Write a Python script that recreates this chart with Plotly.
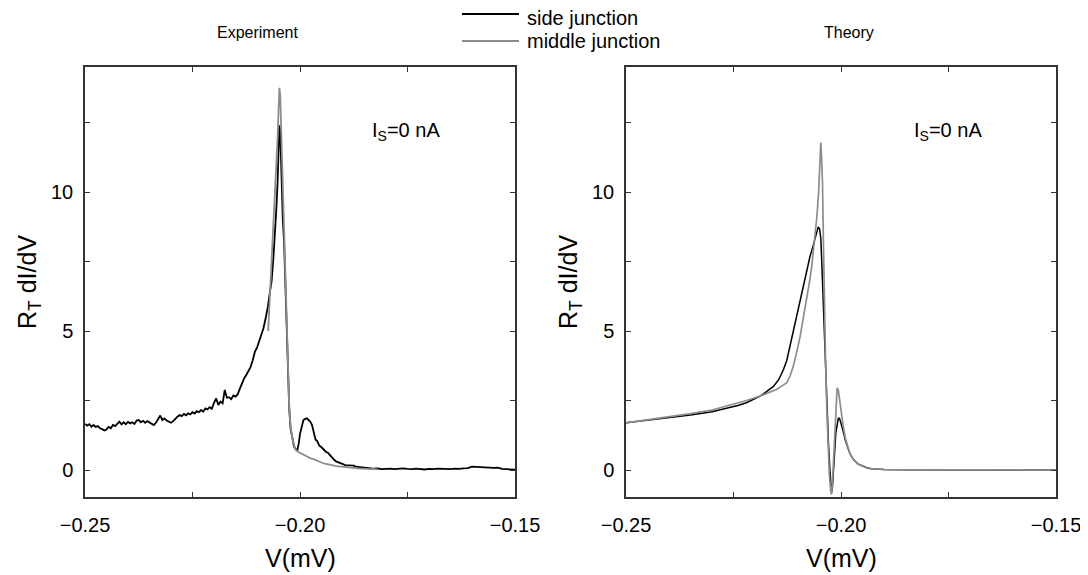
import plotly.graph_objects as go

# ---- experiment: side junction (black) ----
exp_side_v = [
    -0.2500, -0.2495, -0.2490, -0.2485, -0.2480, -0.2475, -0.2470, -0.2465, -0.2460, -0.2455,
    -0.2450, -0.2445, -0.2440, -0.2435, -0.2430, -0.2425, -0.2420, -0.2415, -0.2410, -0.2405,
    -0.2400, -0.2395, -0.2390, -0.2385, -0.2380, -0.2375, -0.2370, -0.2365, -0.2360, -0.2355,
    -0.2350, -0.2345, -0.2340, -0.2335, -0.2330, -0.2325, -0.2320, -0.2315, -0.2310, -0.2305,
    -0.2300, -0.2295, -0.2290, -0.2285, -0.2280, -0.2275, -0.2270, -0.2265, -0.2260, -0.2255,
    -0.2250, -0.2245, -0.2240, -0.2235, -0.2230, -0.2225, -0.2220, -0.2215, -0.2210, -0.2205,
    -0.2200, -0.2195, -0.2190, -0.2185, -0.2180, -0.2175, -0.2170, -0.2165, -0.2160, -0.2155,
    -0.2150, -0.2145, -0.2140, -0.2135, -0.2130, -0.2125, -0.2120, -0.2115, -0.2110, -0.2105,
    -0.2100, -0.2095, -0.2090, -0.2085, -0.2080, -0.2075, -0.2070, -0.2066, -0.2062, -0.2058,
    -0.2055, -0.2052, -0.2050, -0.2048, -0.2046, -0.2044, -0.2042, -0.2040, -0.2037, -0.2034,
    -0.2031, -0.2028, -0.2025, -0.2022, -0.2018, -0.2014, -0.2010, -0.2006, -0.2003, -0.2000,
    -0.1996, -0.1992, -0.1988, -0.1984, -0.1980, -0.1976, -0.1972, -0.1968, -0.1964, -0.1960,
    -0.1955, -0.1950, -0.1945, -0.1940, -0.1935, -0.1930, -0.1925, -0.1920, -0.1915, -0.1910,
    -0.1905, -0.1900, -0.1895, -0.1890, -0.1885, -0.1880, -0.1875, -0.1870, -0.1865, -0.1860,
    -0.1855, -0.1850, -0.1845, -0.1840, -0.1830, -0.1820, -0.1810, -0.1800, -0.1790, -0.1780,
    -0.1770, -0.1760, -0.1750, -0.1740, -0.1730, -0.1720, -0.1710, -0.1700, -0.1690, -0.1680,
    -0.1670, -0.1660, -0.1650, -0.1640, -0.1630, -0.1620, -0.1610, -0.1600, -0.1590, -0.1580,
    -0.1570, -0.1560, -0.1550, -0.1540, -0.1530, -0.1520, -0.1510, -0.1500,
]
exp_side = [
    1.66, 1.60, 1.65, 1.56, 1.62, 1.55, 1.58, 1.50, 1.47, 1.42,
    1.46, 1.55, 1.50, 1.62, 1.58, 1.68, 1.74, 1.64, 1.72, 1.65,
    1.73, 1.68, 1.72, 1.66, 1.78, 1.80, 1.72, 1.77, 1.70, 1.76,
    1.72, 1.66, 1.62, 1.70, 1.84, 1.96, 1.80, 1.86, 1.78, 1.74,
    1.70, 1.76, 1.86, 1.92, 1.98, 1.94, 2.02, 1.97, 2.04, 2.00,
    2.08, 2.03, 2.12, 2.08, 2.16, 2.10, 2.22, 2.18, 2.26, 2.20,
    2.42, 2.58, 2.34, 2.46, 2.40, 2.88, 2.60, 2.62, 2.55, 2.68,
    2.64, 2.72, 2.92, 3.15, 3.30, 3.42, 3.55, 3.70, 3.95, 4.25,
    4.40, 4.62, 4.85, 5.10, 5.45, 5.85, 6.40, 6.80, 7.60, 8.50,
    9.40, 10.40, 11.30, 12.40, 12.20, 11.00, 10.00, 9.00, 8.20, 6.60,
    5.00, 3.50, 2.20, 1.50, 1.10, 0.85, 0.75, 0.72, 0.95, 1.30,
    1.55, 1.80, 1.84, 1.86, 1.80, 1.74, 1.62, 1.30, 1.10, 1.04,
    0.88, 0.82, 0.74, 0.66, 0.62, 0.52, 0.42, 0.36, 0.30, 0.26,
    0.24, 0.21, 0.18, 0.17, 0.17, 0.15, 0.16, 0.12, 0.11, 0.10,
    0.09, 0.10, 0.07, 0.06, 0.05, 0.06, 0.03, 0.04, 0.05, 0.03,
    0.04, 0.06, 0.04, 0.03, 0.05, 0.04, 0.02, 0.04, 0.03, 0.05,
    0.04, 0.02, 0.03, 0.05, 0.04, 0.06, 0.07, 0.12, 0.11, 0.10,
    0.09, 0.10, 0.08, 0.09, 0.04, 0.03, 0.02, 0.01,
]

# ---- experiment: middle junction (grey) ----
exp_mid_v = [
    -0.2074, -0.2070, -0.2066, -0.2062, -0.2058, -0.2055, -0.2052, -0.2050, -0.2048, -0.2046,
    -0.2044, -0.2042, -0.2040, -0.2037, -0.2034, -0.2031, -0.2028, -0.2025, -0.2022, -0.2018,
    -0.2014, -0.2010, -0.2005, -0.2000, -0.1995, -0.1990, -0.1985, -0.1980, -0.1975, -0.1970,
    -0.1965, -0.1960, -0.1955, -0.1950, -0.1945, -0.1940, -0.1935, -0.1930, -0.1925, -0.1920,
    -0.1915, -0.1910, -0.1905, -0.1900, -0.1895, -0.1890, -0.1885, -0.1880, -0.1875, -0.1870,
    -0.1865, -0.1860, -0.1855, -0.1850, -0.1845, -0.1840, -0.1835, -0.1830, -0.1825, -0.1820,
]
exp_mid = [
    5.00, 6.20, 7.60, 8.80, 10.00, 11.00, 12.00, 12.90, 13.75, 13.50,
    12.40, 11.20, 10.00, 8.60, 6.90, 5.20, 3.60, 2.20, 1.60, 1.15,
    0.90, 0.72, 0.66, 0.62, 0.56, 0.52, 0.48, 0.45, 0.42, 0.40,
    0.36, 0.33, 0.30, 0.27, 0.24, 0.22, 0.20, 0.18, 0.16, 0.15,
    0.14, 0.13, 0.12, 0.11, 0.10, 0.09, 0.08, 0.08, 0.07, 0.06,
    0.06, 0.05, 0.05, 0.04, 0.05, 0.04, 0.03, 0.04, 0.03, 0.02,
]

# ---- theory ----
th_side_v = [
    -0.2500, -0.2450, -0.2400, -0.2350, -0.2300, -0.2270, -0.2240, -0.2220, -0.2200, -0.2188,
    -0.2175, -0.2157, -0.2145, -0.2134, -0.2126, -0.2119, -0.2111, -0.2103, -0.2095, -0.2088,
    -0.2080, -0.2072, -0.2066, -0.2060, -0.2056, -0.2053, -0.2050, -0.2047, -0.2045, -0.2043,
    -0.2040, -0.2037, -0.2034, -0.2032, -0.2029, -0.2026, -0.2024, -0.2022, -0.2020, -0.2018,
    -0.2016, -0.2014, -0.2012, -0.2009, -0.2006, -0.2003, -0.2000, -0.1995, -0.1990, -0.1985,
    -0.1980, -0.1975, -0.1970, -0.1960, -0.1950, -0.1940, -0.1930, -0.1920, -0.1900, -0.1850,
    -0.1800, -0.1700, -0.1600, -0.1500,
]
th_side = [
    1.70, 1.79, 1.88, 1.98, 2.10, 2.20, 2.32, 2.42, 2.56, 2.66,
    2.80, 3.01, 3.25, 3.61, 3.95, 4.45, 4.95, 5.53, 6.05, 6.61,
    7.15, 7.69, 8.00, 8.35, 8.62, 8.75, 8.68, 8.35, 7.60, 6.70,
    5.50, 4.30, 3.00, 1.95, 0.90, 0.05, -0.45, -0.80, -0.65, -0.25,
    0.25, 0.85, 1.35, 1.72, 1.88, 1.84, 1.70, 1.40, 1.08, 0.82,
    0.62, 0.47, 0.36, 0.21, 0.13, 0.08, 0.05, 0.035, 0.02, 0.01,
    0.005, 0.002, 0.001, 0.0,
]
th_mid_v = [
    -0.2500, -0.2450, -0.2400, -0.2350, -0.2300, -0.2270, -0.2240, -0.2220, -0.2200, -0.2188,
    -0.2175, -0.2160, -0.2150, -0.2138, -0.2126, -0.2118, -0.2111, -0.2103, -0.2095, -0.2088,
    -0.2080, -0.2074, -0.2068, -0.2062, -0.2056, -0.2052, -0.2049, -0.2047, -0.2045, -0.2043,
    -0.2041, -0.2039, -0.2036, -0.2033, -0.2030, -0.2027, -0.2024, -0.2022, -0.2020, -0.2018,
    -0.2016, -0.2014, -0.2012, -0.2009, -0.2006, -0.2003, -0.2000, -0.1995, -0.1990, -0.1985,
    -0.1980, -0.1975, -0.1970, -0.1960, -0.1950, -0.1940, -0.1930, -0.1920, -0.1900, -0.1850,
    -0.1800, -0.1700, -0.1600, -0.1500,
]
th_mid = [
    1.70, 1.81, 1.91, 2.03, 2.16, 2.28, 2.40, 2.50, 2.60, 2.66,
    2.74, 2.84, 2.90, 3.02, 3.14, 3.40, 3.73, 4.25, 4.81, 5.45,
    6.13, 6.70, 7.33, 8.20, 9.13, 10.00, 10.90, 11.78, 11.20, 10.30,
    8.30, 6.20, 4.00, 2.20, 0.74, -0.20, -0.75, -0.88, -0.50, 0.20,
    0.90, 1.70, 2.42, 2.96, 2.85, 2.45, 2.05, 1.60, 1.15, 0.85,
    0.63, 0.48, 0.37, 0.22, 0.14, 0.09, 0.05, 0.035, 0.02, 0.01,
    0.005, 0.002, 0.001, 0.0,
]

assert len(exp_side_v) == len(exp_side)
assert len(exp_mid_v) == len(exp_mid)
assert len(th_side_v) == len(th_side)
assert len(th_mid_v) == len(th_mid)

x_ticks = [-0.25, -0.225, -0.20, -0.175, -0.15]
x_labels = ['\u22120.25', '', '\u22120.20', '', '\u22120.15']
y_ticks = [0, 2.5, 5, 7.5, 10, 12.5]
y_labels = ['0', '', '5', '', '10', '']
series_names = ['side junction', 'middle junction']

W, H = 1088, 575
OFF = 8  # page body margin in the browser
BLACK = '#000000'
GREY = '#8c8c8c'
FONT = 'Arial, Liberation Sans, sans-serif'


def px(x):
    return (x - OFF) / W


def py(y):
    return 1 - (y - OFF) / H


fig = go.Figure()
# noisy measured trace drawn a bit heavier, like the original scan
fig.add_trace(go.Scatter(x=exp_side_v, y=exp_side, mode='lines', name=series_names[0],
                         line=dict(color=BLACK, width=1.8), xaxis='x', yaxis='y'))
fig.add_trace(go.Scatter(x=exp_mid_v, y=exp_mid, mode='lines', name=series_names[1],
                         line=dict(color=GREY, width=1.8), xaxis='x', yaxis='y'))
fig.add_trace(go.Scatter(x=th_side_v, y=th_side, mode='lines', name=series_names[0],
                         line=dict(color=BLACK, width=1.5), xaxis='x2', yaxis='y2'))
fig.add_trace(go.Scatter(x=th_mid_v, y=th_mid, mode='lines', name=series_names[1],
                         line=dict(color=GREY, width=1.7), xaxis='x2', yaxis='y2'))

axis_common = dict(showline=True, linecolor='#333', linewidth=1.5, mirror='ticks',
                   ticks='inside', ticklen=5, tickwidth=1.2, tickcolor='#333',
                   showgrid=False, zeroline=False, automargin=False,
                   tickfont=dict(family=FONT, size=20, color='#000'))

xa = dict(axis_common, range=[-0.25, -0.15], tickvals=x_ticks, ticktext=x_labels,
          ticklabelstandoff=9)
ya = dict(axis_common, range=[-0.97, 14.5], tickvals=y_ticks, ticktext=y_labels,
          ticklabelstandoff=6)

top, bottom = 67, 497
fig.update_layout(
    width=W, height=H, autosize=False,
    margin=dict(l=0, r=0, t=0, b=0, pad=0, autoexpand=False),
    paper_bgcolor='white', plot_bgcolor='white',
    font=dict(family=FONT, color='#000'),
    showlegend=False,
    xaxis=dict(xa, domain=[px(85), px(515)], anchor='y'),
    yaxis=dict(ya, domain=[py(bottom), py(top)], anchor='x'),
    xaxis2=dict(xa, domain=[px(626), px(1056)], anchor='y2'),
    yaxis2=dict(ya, domain=[py(bottom), py(top)], anchor='x2'),
)

ann = []
for cx, title in [(257, 'Experiment'), (849, 'Theory')]:
    ann.append(dict(x=px(cx), y=py(32), text=title, font=dict(size=16)))
for cx in [300, 841]:
    ann.append(dict(x=px(cx), y=py(558), text='V(mV)', font=dict(size=25)))
for cx in [29, 570]:
    ann.append(dict(x=px(cx), y=py(282), text='R<sub>T</sub> dI/dV', textangle=-90,
                    font=dict(size=25)))
for cx in [370, 912]:
    ann.append(dict(x=px(cx), y=py(131), text='I<sub>S</sub>=0 nA', xanchor='left',
                    font=dict(size=20)))

# legend drawn by hand so its line samples match the original length
shapes = []
for ly, name, col in [(14, series_names[0], BLACK), (41, series_names[1], GREY)]:
    shapes.append(dict(type='line', xref='paper', yref='paper',
                       x0=px(462), x1=px(519), y0=py(ly), y1=py(ly),
                       line=dict(color=col, width=1.8)))
    ann.append(dict(x=px(525), y=py(max(ly, 18)), text=name, xanchor='left',
                    font=dict(size=20)))

for a in ann:
    a.update(xref='paper', yref='paper', showarrow=False)
    a.setdefault('xanchor', 'center')
    a.setdefault('yanchor', 'middle')
fig.update_layout(annotations=ann, shapes=shapes)

fig.write_html("out.html")
